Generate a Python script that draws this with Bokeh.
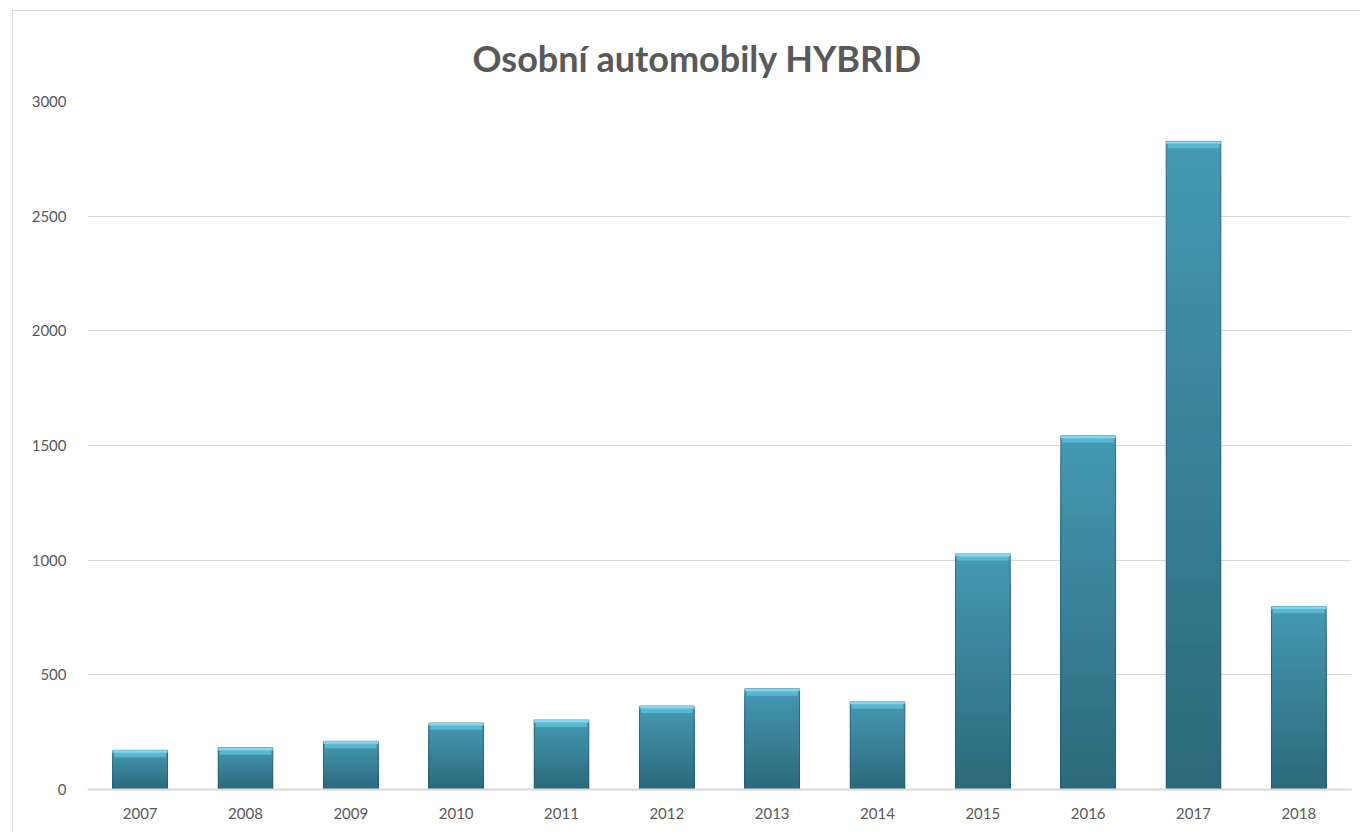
from bokeh.plotting import figure
from bokeh.models import FactorRange, Range1d, FixedTicker
from bokeh.embed import file_html
from bokeh.resources import INLINE

years = ["2007", "2008", "2009", "2010", "2011", "2012",
         "2013", "2014", "2015", "2016", "2017", "2018"]
values = [171, 182, 210, 290, 303, 364, 439, 382, 1027, 1542, 2826, 798]
y_ticks = [0, 500, 1000, 1500, 2000, 2500, 3000]
title_text = "Osobní automobily HYBRID"

TXT = "#595959"
GRID = "#d9d9d9"
FONT = "Lato"
BAR_W = 0.52
N = 40
TOP_C = (0x45, 0x99, 0xb3)
BOT_C = (0x2c, 0x68, 0x7a)
BEVEL = 30  # style: bevel height in axis units


def mix(a, b, t):
    return "#%02x%02x%02x" % tuple(int(round(a[i] + (b[i] - a[i]) * t)) for i in range(3))


p = figure(x_range=FactorRange(factors=years, range_padding=0, factor_padding=0),
           y_range=Range1d(0, 3000),
           width=1348, height=822,
           output_backend="svg", toolbar_location=None,
           min_border_left=74, min_border_right=10,
           min_border_top=87, min_border_bottom=44)
p.styles = {"margin-left": "12px", "margin-top": "10px",
            "border-left": "1px solid #d9d9d9", "border-top": "1px solid #d9d9d9"}

p.outline_line_color = None
p.background_fill_color = "white"
p.border_fill_color = "white"

# gradient: overlapping bars from 0 up, tallest first so no seams appear
xs, tops, cols = [], [], []
for k in range(N - 1, -1, -1):
    for yr, v in zip(years, values):
        xs.append(yr)
        tops.append(v * (k + 1) / N)
        cols.append(mix(BOT_C, TOP_C, (k + 0.5) / N))
p.vbar(x=xs, bottom=0, top=tops, width=BAR_W, fill_color=cols, line_color=None)

# outline edges
p.vbar(x=years, top=values, width=BAR_W, fill_color=None, line_color="#25586a", line_width=1, line_alpha=0.7)
# top bevel
p.vbar(x=years, top=values, bottom=[v - BEVEL for v in values], width=BAR_W - 0.03,
       fill_color="#5ab7d1", line_color=None)
p.vbar(x=years, top=values, bottom=[v - BEVEL * 0.35 for v in values], width=BAR_W,
       fill_color="#86d6ec", line_color=None)

p.title.text = title_text
p.title.text_font = FONT
p.title.text_font_size = "36px"
p.title.text_font_style = "bold"
p.title.text_color = TXT
p.title.align = "left"
p.title.offset = 385
p.title.standoff = 44

p.yaxis.ticker = FixedTicker(ticks=y_ticks)
p.yaxis.axis_line_color = None
p.yaxis.major_tick_line_color = None
p.yaxis.minor_tick_line_color = None
p.yaxis.major_label_text_font = FONT
p.yaxis.major_label_text_font_size = "15px"
p.yaxis.major_label_text_color = TXT
p.yaxis.major_label_standoff = 15

p.xaxis.axis_line_color = GRID
p.xaxis.axis_line_width = 2
p.xaxis.major_tick_line_color = None
p.xaxis.minor_tick_line_color = None
p.xaxis.major_label_text_font = FONT
p.xaxis.major_label_text_font_size = "15px"
p.xaxis.major_label_text_color = TXT
p.xaxis.major_label_standoff = 12

p.xgrid.grid_line_color = None
p.ygrid.grid_line_color = GRID
p.ygrid.ticker = FixedTicker(ticks=y_ticks)

open("out.html", "w").write(file_html(p, INLINE))
